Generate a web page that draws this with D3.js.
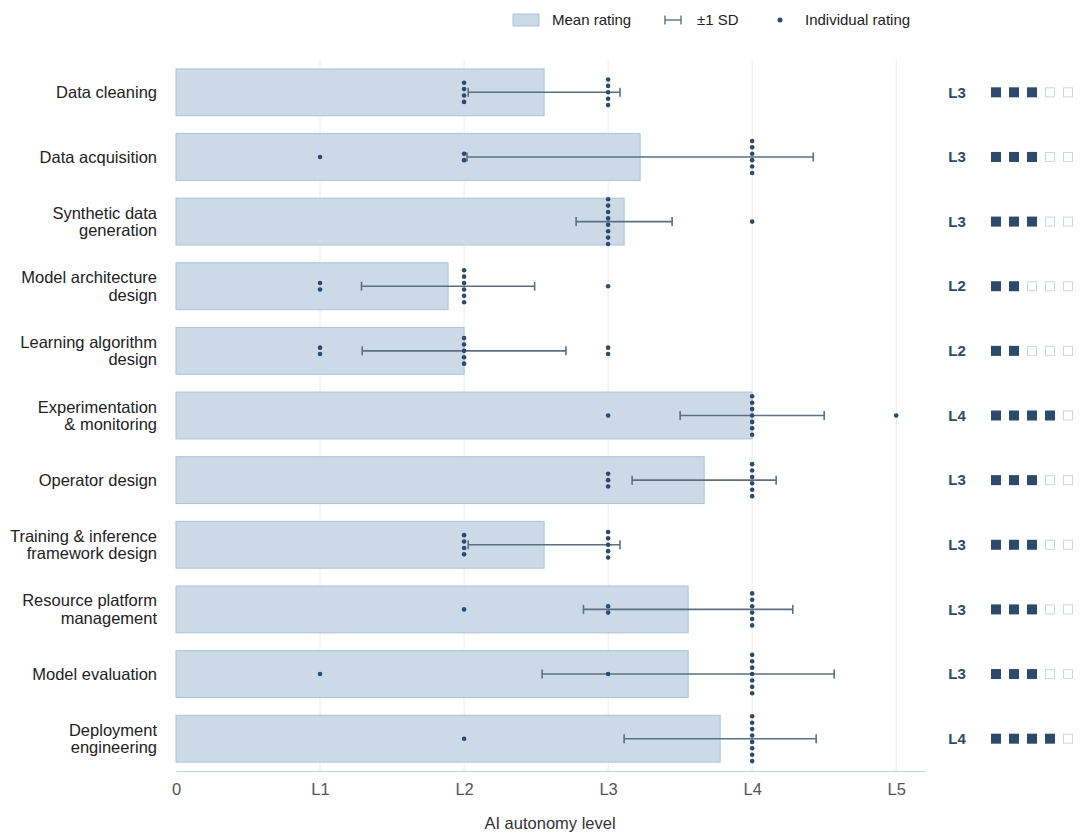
<!DOCTYPE html>
<html>
<head>
<meta charset="utf-8">
<script src="https://cdn.jsdelivr.net/npm/d3@7"></script>
<style>
  body { margin: 0; background: #fff; }
  svg { font-family: "Liberation Sans", Arial, Helvetica, sans-serif; }
</style>
</head>
<body>
<svg id="chart" width="1080" height="836"></svg>
<script>
// tasks, top to bottom
var categories = [
  "Data cleaning",
  "Data acquisition",
  "Synthetic data\ngeneration",
  "Model architecture\ndesign",
  "Learning algorithm\ndesign",
  "Experimentation\n& monitoring",
  "Operator design",
  "Training & inference\nframework design",
  "Resource platform\nmanagement",
  "Model evaluation",
  "Deployment\nengineering"
];

// individual ratings (9 raters per task)
var ratings = [
  [2, 2, 2, 2, 3, 3, 3, 3, 3],
  [1, 2, 2, 4, 4, 4, 4, 4, 4],
  [3, 3, 3, 3, 3, 3, 3, 3, 4],
  [1, 1, 2, 2, 2, 2, 2, 2, 3],
  [1, 1, 2, 2, 2, 2, 2, 3, 3],
  [3, 4, 4, 4, 4, 4, 4, 4, 5],
  [3, 3, 3, 4, 4, 4, 4, 4, 4],
  [2, 2, 2, 2, 3, 3, 3, 3, 3],
  [2, 3, 3, 4, 4, 4, 4, 4, 4],
  [1, 3, 4, 4, 4, 4, 4, 4, 4],
  [2, 4, 4, 4, 4, 4, 4, 4, 4]
];

// consensus level shown on the right
var consensusLevels = [3, 3, 3, 2, 2, 4, 3, 3, 3, 3, 4];

var tickValues = [0, 1, 2, 3, 4, 5];
var tickLabels = ["0", "L1", "L2", "L3", "L4", "L5"];

var svg = d3.select("#chart");

var x = d3.scaleLinear().domain([0, 5.2]).range([176, 925]);
var y = d3.scaleBand()
  .domain(d3.range(categories.length))
  .range([60, 771])
  .paddingInner(0.26)
  .paddingOuter(0.13);

var dark = "#2c4a6b";
var errColor = "#5c6f82";

// vertical grid
svg.append("g")
  .selectAll("line")
  .data(tickValues.slice(1))
  .enter().append("line")
  .attr("x1", d => x(d)).attr("x2", d => x(d))
  .attr("y1", 60).attr("y2", 771)
  .attr("stroke", "#e8ecf1")
  .attr("stroke-width", 1);

// mean bars
var rows = svg.append("g").selectAll("g")
  .data(ratings)
  .enter().append("g")
  .attr("transform", (d, i) => "translate(0," + y(i) + ")");

rows.append("rect")
  .attr("x", x(0))
  .attr("y", 0.5)
  .attr("width", d => x(d3.mean(d)) - x(0))
  .attr("height", y.bandwidth() - 1)
  .attr("fill", "#cbdae6")
  .attr("stroke", "#a9c2d6")
  .attr("stroke-width", 1);

// error bars (+-1 SD)
var mid = y.bandwidth() / 2;
rows.each(function (d) {
  var g = d3.select(this);
  var m = d3.mean(d), s = d3.deviation(d);
  var x0 = x(m - s), x1 = x(m + s);
  g.append("line")
    .attr("x1", x0).attr("x2", x1).attr("y1", mid).attr("y2", mid)
    .attr("stroke", errColor).attr("stroke-width", 1.6);
  [x0, x1].forEach(function (xx) {
    g.append("line")
      .attr("x1", xx).attr("x2", xx).attr("y1", mid - 4.5).attr("y2", mid + 4.5)
      .attr("stroke", errColor).attr("stroke-width", 1.6);
  });
});

// individual ratings, stacked per level
var dotStep = 6.4;
rows.each(function (d) {
  var g = d3.select(this);
  var groups = d3.rollups(d, v => v.length, v => v);
  groups.forEach(function (grp) {
    var level = grp[0], n = grp[1];
    for (var j = 0; j < n; j++) {
      g.append("circle")
        .attr("cx", x(level))
        .attr("cy", mid + (j - (n - 1) / 2) * dotStep)
        .attr("r", 2.3)
        .attr("fill", dark);
    }
  });
});

// category labels
rows.append("text")
  .attr("x", 157)
  .attr("y", mid)
  .attr("text-anchor", "end")
  .attr("font-size", 16.5)
  .attr("fill", "#222")
  .each(function (d, i) {
    var lines = categories[i].split("\n");
    var t = d3.select(this);
    lines.forEach(function (line, k) {
      t.append("tspan")
        .attr("x", 157)
        .attr("y", mid + (k - (lines.length - 1) / 2) * 17.5)
        .attr("dy", "0.35em")
        .text(line);
    });
  });

// consensus level on the right
rows.append("text")
  .attr("x", 957)
  .attr("y", mid)
  .attr("dy", "0.35em")
  .attr("text-anchor", "middle")
  .attr("font-size", 15)
  .attr("font-weight", "bold")
  .attr("fill", dark)
  .text((d, i) => "L" + consensusLevels[i]);

rows.each(function (d, i) {
  var g = d3.select(this);
  d3.range(5).forEach(function (k) {
    var filled = k < consensusLevels[i];
    g.append("rect")
      .attr("x", 991 + k * 18 + (filled ? 0 : 0.5))
      .attr("y", mid - 5 + (filled ? 0 : 0.5))
      .attr("width", filled ? 10 : 9)
      .attr("height", filled ? 10 : 9)
      .attr("fill", filled ? dark : "#fff")
      .attr("stroke", filled ? "none" : "#cfd6dd")
      .attr("stroke-width", 1);
  });
});

// x axis
var axis = svg.append("g")
  .attr("transform", "translate(0,771)")
  .call(d3.axisBottom(x).tickValues(tickValues)
    .tickFormat((d, i) => tickLabels[i]).tickSize(0).tickPadding(12));
axis.select(".domain").attr("stroke", "#c6ced6").attr("stroke-width", 1.2);
axis.selectAll("text")
  .attr("font-size", 16.5)
  .attr("fill", "#555")
  .attr("font-family", "\"Liberation Sans\", Arial, sans-serif");

svg.append("text")
  .attr("x", 550)
  .attr("y", 829)
  .attr("text-anchor", "middle")
  .attr("font-size", 16.5)
  .attr("fill", "#333")
  .text("AI autonomy level");

// legend
var lg = svg.append("g").attr("transform", "translate(0,20)");
lg.append("rect")
  .attr("x", 513).attr("y", -6).attr("width", 26).attr("height", 12)
  .attr("fill", "#cbdae6").attr("stroke", "#a9c2d6");
lg.append("text").attr("x", 552).attr("y", 0).attr("dy", "0.35em")
  .attr("font-size", 15).attr("fill", "#222").text("Mean rating");
lg.append("line").attr("x1", 665).attr("x2", 681).attr("y1", 0).attr("y2", 0)
  .attr("stroke", errColor).attr("stroke-width", 1.4);
[665, 681].forEach(function (xx) {
  lg.append("line").attr("x1", xx).attr("x2", xx).attr("y1", -4.5).attr("y2", 4.5)
    .attr("stroke", errColor).attr("stroke-width", 1.4);
});
lg.append("text").attr("x", 697).attr("y", 0).attr("dy", "0.35em")
  .attr("font-size", 15).attr("fill", "#222").text("±1 SD");
lg.append("circle").attr("cx", 780).attr("cy", 0).attr("r", 2.5).attr("fill", dark);
lg.append("text").attr("x", 805).attr("y", 0).attr("dy", "0.35em")
  .attr("font-size", 15).attr("fill", "#222").text("Individual rating");
</script>
</body>
</html>
